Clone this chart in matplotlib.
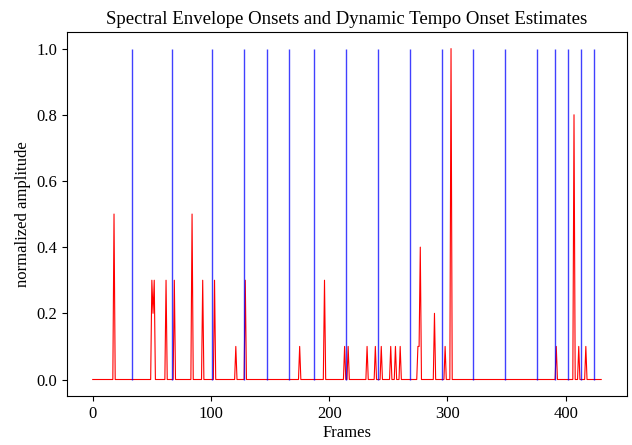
import numpy as np
import matplotlib
matplotlib.use("Agg")
import matplotlib.pyplot as plt

plt.rcParams['font.family'] = ['Liberation Serif', 'DejaVu Serif']

# onset envelope: (frame, normalized amplitude) for the nonzero frames
n_frames = 431
peak_frames = [18, 50, 51, 52, 62, 69, 84, 93, 103, 121, 129,
               175, 196, 213, 216, 232, 239, 244, 252, 256, 260,
               275, 276, 277, 289, 298, 303, 392, 407, 411, 417]
peak_values = [0.5, 0.3, 0.2, 0.3, 0.3, 0.3, 0.5, 0.3, 0.3, 0.1, 0.3,
               0.1, 0.3, 0.1, 0.1, 0.1, 0.1, 0.1, 0.1, 0.1, 0.1,
               0.1, 0.1, 0.4, 0.2, 0.1, 1.0, 0.1, 0.8, 0.1, 0.1]

# dynamic tempo beat estimates (frames)
beat_frames = [33, 67, 101, 128, 147, 166, 187, 214, 241, 268, 295,
               322, 349, 376, 391, 402, 413, 424]

envelope = np.zeros(n_frames)
envelope[peak_frames] = peak_values

fig = plt.figure(figsize=(6.32, 4.45), dpi=100)
ax = fig.add_axes([0.1065, 0.110, 0.885, 0.818])
ax.plot(np.arange(n_frames), envelope, color='red', linewidth=0.8)
ax.vlines(beat_frames, 0, 1, color='blue', alpha=0.75, linewidth=1.0)

ax.set_title('Spectral Envelope Onsets and Dynamic Tempo Onset Estimates', fontsize=13.5)
ax.set_xlabel('Frames', fontsize=12, labelpad=2)
ax.set_ylabel('normalized amplitude', fontsize=12)
ax.tick_params(labelsize=12)

fig.savefig('out.png', dpi=100)
